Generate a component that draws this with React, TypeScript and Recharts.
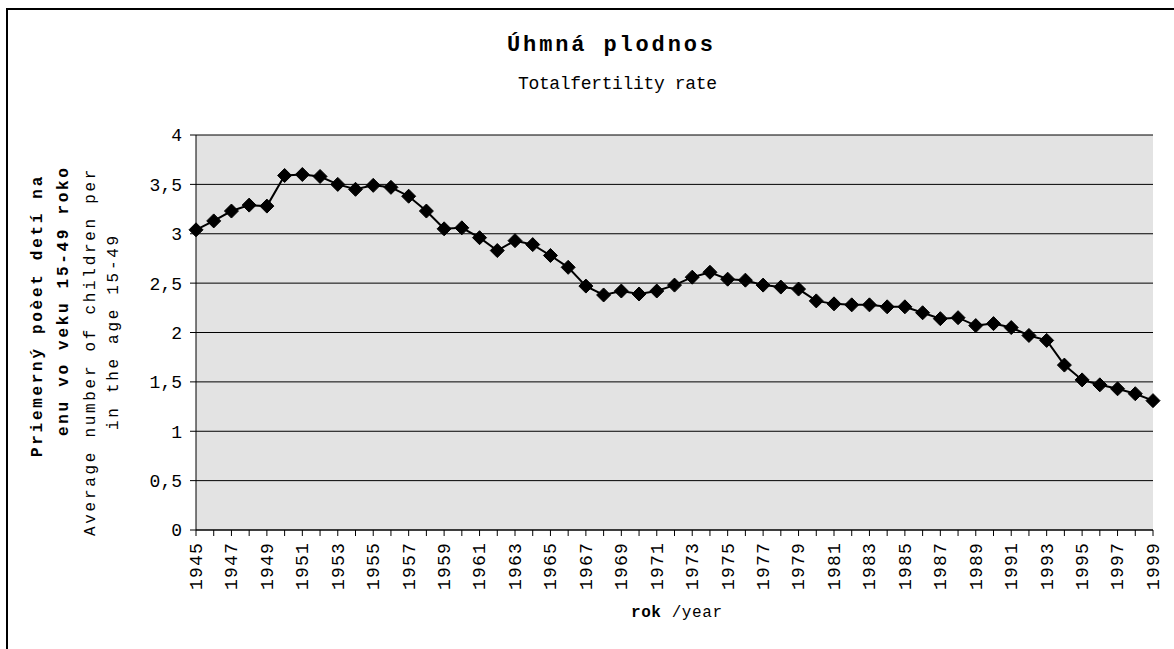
import React from 'react';
import { LineChart, Line, XAxis, YAxis, CartesianGrid } from 'recharts';

const years = [
  '1945','1946','1947','1948','1949','1950','1951','1952','1953','1954',
  '1955','1956','1957','1958','1959','1960','1961','1962','1963','1964',
  '1965','1966','1967','1968','1969','1970','1971','1972','1973','1974',
  '1975','1976','1977','1978','1979','1980','1981','1982','1983','1984',
  '1985','1986','1987','1988','1989','1990','1991','1992','1993','1994',
  '1995','1996','1997','1998','1999',
];

const fertility = [
  3.04, 3.13, 3.23, 3.29, 3.28, 3.59, 3.60, 3.58, 3.50, 3.45,
  3.49, 3.47, 3.38, 3.23, 3.05, 3.06, 2.96, 2.83, 2.93, 2.89,
  2.78, 2.66, 2.47, 2.38, 2.42, 2.39, 2.42, 2.48, 2.56, 2.61,
  2.54, 2.53, 2.48, 2.46, 2.44, 2.32, 2.29, 2.28, 2.28, 2.26,
  2.26, 2.20, 2.14, 2.15, 2.07, 2.09, 2.05, 1.97, 1.92, 1.67,
  1.52, 1.47, 1.43, 1.38, 1.31,
];

const yTicks = [0, 0.5, 1, 1.5, 2, 2.5, 3, 3.5, 4];

const titleMain = 'Úhmná plodnos';
const titleSub = 'Totalfertility rate';
const yTitleLines = [
  'Priemerný poèet detí na',
  'enu vo veku  15-49 rokov',
  'Average number of children per woman',
  'in the age 15-49',
];
const xTitleBold = 'rok';
const xTitleRest = ' /year';

const data = years.map((y, i) => ({ year: y, v: fertility[i] }));

const FONT = '"Liberation Mono", "Courier New", monospace';

const Diamond = (props: any) => {
  const { cx, cy } = props;
  if (cx == null || cy == null) return null;
  const r = 7;
  return (
    <polygon
      points={`${cx},${cy - r} ${cx + r},${cy} ${cx},${cy + r} ${cx - r},${cy}`}
      fill="#000"
      stroke="#000"
      strokeWidth={1}
    />
  );
};

const XTick = (props: any) => {
  const { x, y, payload, index } = props;
  if (index % 2 !== 0) return <g />;
  const ty = y + 4;
  return (
    <text
      x={x}
      y={ty}
      transform={`rotate(-90, ${x}, ${ty})`}
      textAnchor="end"
      dy="0.33em"
      fill="#000"
      fontFamily={FONT}
      fontSize={18}
      letterSpacing={1.2}
    >
      {payload.value}
    </text>
  );
};

// overlay coords: page - (8,10)
const ox = (x: number) => x - 8;
const oy = (y: number) => y - 10;

export default function App() {
  const W = 1160;
  const H = 621;
  const yTitle = [
    { x: 42, y: 457, bold: true },
    { x: 68, y: 436, bold: true },
    { x: 95, y: 536, bold: false },
    { x: 118, y: 430, bold: false },
  ];
  return (
    <div>
      <div
        style={{
          position: 'fixed',
          left: 6,
          top: 8,
          width: 1400,
          height: 900,
          borderLeft: '2px solid #000',
          borderTop: '2px solid #000',
          pointerEvents: 'none',
          zIndex: 5,
        }}
      />
      <div style={{ position: 'absolute', left: 8, top: 10, width: W, height: H }}>
        <LineChart
          width={W}
          height={H}
          data={data}
          margin={{ top: 125, right: W - 1145, bottom: 0, left: 0 }}
        >
          <CartesianGrid vertical={false} stroke="#000" strokeWidth={1} fill="#e3e3e3" />
          <XAxis
            dataKey="year"
            interval={0}
            height={H - 520}
            tickSize={6}
            tickMargin={2}
            axisLine={{ stroke: '#000', strokeWidth: 1 }}
            tickLine={{ stroke: '#000', strokeWidth: 1 }}
            tick={<XTick />}
          />
          <YAxis
            width={188}
            domain={[0, 4]}
            ticks={yTicks}
            interval={0}
            tickSize={6}
            tickMargin={8}
            axisLine={{ stroke: '#000', strokeWidth: 1 }}
            tickLine={{ stroke: '#000', strokeWidth: 1 }}
            tick={{ fill: '#000', fontFamily: FONT, fontSize: 18 }}
            tickFormatter={(v: number) => String(v).replace('.', ',')}
          />
          <Line
            type="linear"
            dataKey="v"
            stroke="#000"
            strokeWidth={2}
            dot={<Diamond />}
            activeDot={false}
            isAnimationActive={false}
          />
        </LineChart>
        <svg
          width={W}
          height={H}
          style={{ position: 'absolute', left: 0, top: 0, pointerEvents: 'none' }}
        >
          <defs>
            <clipPath id="ytclip">
              <rect x={0} y={oy(168)} width={200} height={500} />
            </clipPath>
          </defs>
          <text
            x={ox(507)}
            y={oy(51)}
            textLength={206}
            lengthAdjust="spacing"
            fontFamily={FONT}
            fontWeight="bold"
            fontSize={22}
            fill="#000"
          >
            {titleMain}
          </text>
          <text
            x={ox(518)}
            y={oy(89)}
            textLength={199}
            lengthAdjust="spacing"
            fontFamily={FONT}
            fontSize={18}
            fill="#000"
          >
            {titleSub}
          </text>
          <g clipPath="url(#ytclip)">
            {yTitleLines.map((t, i) => (
              <text
                key={i}
                x={ox(yTitle[i].x)}
                y={oy(yTitle[i].y)}
                transform={`rotate(-90, ${ox(yTitle[i].x)}, ${oy(yTitle[i].y)})`}
                fontFamily={FONT}
                fontWeight={yTitle[i].bold ? 'bold' : 'normal'}
                fontSize={16}
                letterSpacing={2.7}
                fill="#000"
              >
                {t}
              </text>
            ))}
          </g>
          <text
            x={ox(631)}
            y={oy(617)}
            textLength={91}
            lengthAdjust="spacing"
            fontFamily={FONT}
            fontSize={16}
            fill="#000"
          >
            <tspan fontWeight="bold">{xTitleBold}</tspan>
            <tspan>{xTitleRest}</tspan>
          </text>
        </svg>
      </div>
    </div>
  );
}
